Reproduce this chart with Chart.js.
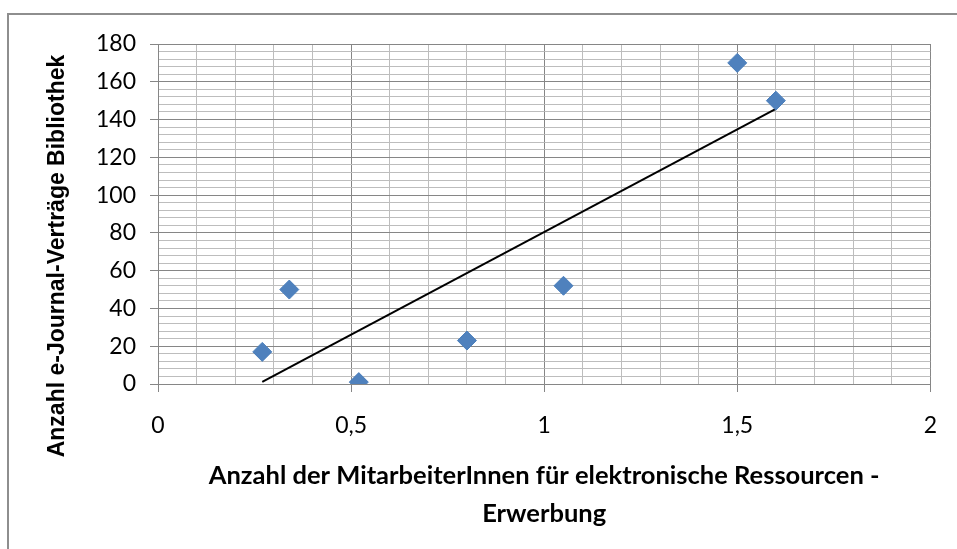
<!DOCTYPE html>
<html>
<head>
<meta charset="utf-8">
<script src="https://cdn.jsdelivr.net/npm/chart.js@4"></script>
<style>
  html, body { margin: 0; padding: 0; background: #ffffff; overflow: hidden; }
  #frame { position: absolute; left: 7px; top: 13px; width: 1000px; height: 600px; border: 2px solid #8e8e8e; box-sizing: border-box; }
  #wrap { position: absolute; left: 0; top: 0; width: 957px; height: 549px; }
</style>
</head>
<body>
<div id="frame"></div>
<div id="wrap"><canvas id="c" width="957" height="549"></canvas></div>
<script>
// ---- data ----
const xValues = [0.27, 0.34, 0.52, 0.80, 1.05, 1.50, 1.60];
const yValues = [17, 50, 1, 23, 52, 170, 150];
const trendX = [0.27, 1.60];
const trendY = [1.1, 145.6];
const xTickLabels = ['0', '0,5', '1', '1,5', '2'];
const yTickLabels = ['0', '20', '40', '60', '80', '100', '120', '140', '160', '180'];
const xTitle = ['Anzahl der MitarbeiterInnen für elektronische Ressourcen -', 'Erwerbung'];
const yTitle = 'Anzahl e-Journal-Verträge Bibliothek';

const MAJOR = '#868686';
const MINOR = '#bdbdbd';
const isMajorX = v => Math.abs(v * 2 - Math.round(v * 2)) < 1e-6;
const isMajorY = v => Math.abs(v / 20 - Math.round(v / 20)) < 1e-6;

const yTitlePlugin = {
  id: 'yTitle',
  afterDraw(chart) {
    const ctx = chart.ctx;
    ctx.save();
    ctx.translate(58, 256);
    ctx.rotate(-Math.PI / 2);
    ctx.font = 'bold 23px "Liberation Sans", Arial, sans-serif';
    ctx.fillStyle = '#000000';
    ctx.textAlign = 'center';
    ctx.textBaseline = 'middle';
    ctx.fillText(yTitle, 0, 0);
    ctx.restore();
  }
};

new Chart(document.getElementById('c'), {
  type: 'scatter',
  data: {
    datasets: [
      {
        label: 'Bibliotheken',
        data: xValues.map((x, i) => ({ x: x, y: yValues[i] })),
        pointStyle: 'rectRot',
        pointRadius: 9.5,
        pointHoverRadius: 9.5,
        backgroundColor: '#4F81BD',
        borderColor: '#4A7EBB',
        borderWidth: 1,
        order: 0
      },
      {
        label: 'Trend',
        data: trendX.map((x, i) => ({ x: x, y: trendY[i] })),
        showLine: true,
        pointRadius: 0,
        borderColor: '#000000',
        borderWidth: 2,
        fill: false,
        order: 1
      }
    ]
  },
  options: {
    responsive: false,
    animation: false,
    devicePixelRatio: 1,
    layout: { padding: { left: 0, right: 25, top: 44, bottom: 0 } },
    plugins: { legend: { display: false }, tooltip: { enabled: false } },
    scales: {
      x: {
        type: 'linear',
        min: 0, max: 2,
        afterFit: s => { s.height = 165; },
        ticks: {
          stepSize: 0.1,
          autoSkip: false,
          maxRotation: 0,
          padding: 20,
          color: '#000000',
          font: { family: 'Lato', size: 23 },
          callback: v => isMajorX(v) ? xTickLabels[Math.round(v * 2)] : ''
        },
        grid: {
          drawTicks: true,
          tickLength: 8,
          color: c => isMajorX(c.tick.value) ? MAJOR : MINOR,
          tickColor: c => isMajorX(c.tick.value) ? MAJOR : 'rgba(0,0,0,0)',
          lineWidth: 1
        },
        border: { color: MAJOR, width: 1 },
        title: {
          display: true,
          text: xTitle,
          color: '#000000',
          font: { family: 'Lato', size: 25.5, weight: 'bold', lineHeight: '38px' },
          padding: { top: 0, bottom: 16 }
        }
      },
      y: {
        type: 'linear',
        min: 0, max: 180,
        afterFit: s => { s.width = 158; },
        ticks: {
          stepSize: 4,
          autoSkip: false,
          padding: 14,
          color: '#000000',
          font: { family: 'Lato', size: 23 },
          callback: v => isMajorY(v) ? yTickLabels[Math.round(v / 20)] : ''
        },
        grid: {
          drawTicks: true,
          tickLength: 8,
          color: c => isMajorY(c.tick.value) ? MAJOR : MINOR,
          tickColor: c => isMajorY(c.tick.value) ? MAJOR : 'rgba(0,0,0,0)',
          lineWidth: 1
        },
        border: { color: MAJOR, width: 1 },
        title: { display: false }
      }
    }
  },
  plugins: [yTitlePlugin]
});
</script>
</body>
</html>
